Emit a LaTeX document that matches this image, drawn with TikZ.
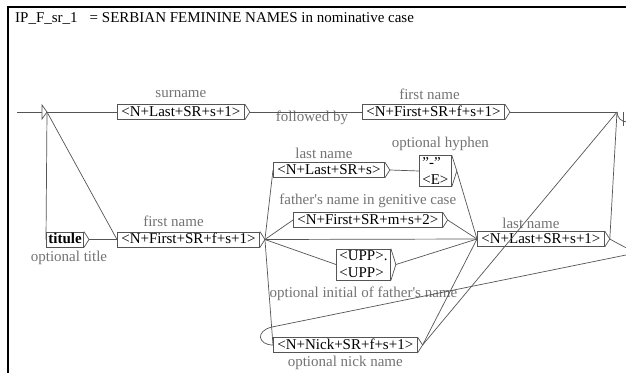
\documentclass[tikz,border=0pt]{standalone}
\usepackage{fontspec}
\setmainfont{Liberation Serif}
\usepackage{tikz}
\usetikzlibrary{calc,positioning}
\definecolor{linegray}{RGB}{85,85,85}
\definecolor{labelgray}{RGB}{115,115,115}
\newcommand{\unifont}{\fontsize{15}{17}\selectfont}
\tikzstyle{edge}=[draw=linegray,line width=0.7pt]
\tikzstyle{unibox} =
  [rectangle, draw=linegray, line width=0.7pt, anchor=west, font=\unifont,
   inner xsep=4pt, inner ysep=0pt, minimum height=15pt, text height=10.5pt, text depth=2pt]
\tikzstyle{twobox} =
  [rectangle, draw=linegray, line width=0.7pt, anchor=west, font=\unifont,
   align=left, inner xsep=3pt, inner ysep=2pt]
\tikzstyle{comment}=[text=labelgray, font=\unifont, inner sep=0pt]
% output triangle on the right side of a box
\newcommand{\boxout}[1]{\draw[edge] (#1.north east) -- ([xshift=5pt]#1.east) coordinate (#1-o) -- (#1.south east);}

\begin{document}
\begin{tikzpicture}[x=1pt,y=-1pt]
  \useasboundingbox (0,0) rectangle (626,372);
  \clip (0,0) rectangle (626,372);
  \fill[white] (0,0) rectangle (626,372);
  \draw[line width=1.6pt] (8,380) -- (8,7) -- (640,7);
  \node [anchor=base west, font=\unifont, inner sep=0pt] (title) at (15,23)
    {IP\_F\_sr\_1\hspace{12pt}= SERBIAN FEMININE NAMES in nominative case};

  % initial and final states
  \coordinate (start) at (17,112);
  \coordinate (init) at (47,112);
  \draw[edge] (start) -- (42,112);
  \draw[edge] (42,105) -- (init) -- (42,119) -- cycle;
  \coordinate (final) at (617,112);
  \draw[edge] (final) arc (180:0:10);
  \draw[edge] (623,112) -- (623,126);

  % boxes
  \node [unibox] (surname) at (117,112) {<N+Last+SR+s+1>};
  \node [unibox] (firstT) at (362,112) {<N+First+SR+f+s+1>};
  \node [unibox, font=\unifont\bfseries, inner xsep=2pt] (titule) at (46,239.5) {titule};
  \node [unibox] (firstB) at (117,239.5) {<N+First+SR+f+s+1>};
  \node [unibox] (lastM) at (273,170) {<N+Last+SR+s>};
  \node [twobox] (hyphen) at (419,171) {\symbol{34}-\symbol{34}\\<E>};
  \node [unibox] (fatherG) at (293,220) {<N+First+SR+m+s+2>};
  \node [twobox] (UPP) at (336,264.5) {<UPP>.\\<UPP>};
  \node [unibox] (lastR) at (477,239) {<N+Last+SR+s+1>};
  \node [unibox] (nick) at (273,345) {<N+Nick+SR+f+s+1>};
  \foreach \b in {surname,firstT,titule,firstB,lastM,hyphen,fatherG,UPP,lastR,nick}
    {\boxout{\b}}

  % comments
  \node [comment, above of=surname, node distance=18pt] (c1) {surname};
  \node [comment, above of=firstT, node distance=18pt, xshift=-4pt] (c2) {first name};
  \node [comment] (c3) at (312,118) {followed by};
  \node [comment, below of=titule, node distance=18pt, xshift=4pt] (c4) {optional title};
  \node [comment, above of=firstB, node distance=18pt, xshift=-15pt] (c5) {first name};
  \node [comment, above of=lastM, node distance=17pt, xshift=-5pt] (c6) {last name};
  \node [comment, above=4pt of hyphen, xshift=5pt] (c7) {optional hyphen};
  \node [comment, above of=fatherG, node distance=19pt] (c8) {father\textquotesingle s name in genitive case};
  \node [comment, below=6pt of UPP] (c9) {optional initial of father\textquotesingle s name};
  \node [comment, above of=lastR, node distance=16pt, xshift=-10pt] (c10) {last name};
  \node [comment, below of=nick, node distance=18pt] (c11) {optional nick name};

  % connections
  \draw[edge] (init) -- (surname.west);
  \draw[edge] (init) -- (titule.west);
  \draw[edge] (init) -- (firstB.west);
  \draw[edge] (surname-o) -- (firstT.west);
  \draw[edge] (firstT-o) -- (final);
  \draw[edge] (titule-o) -- (firstB.west);
  \foreach \t in {lastM,fatherG,lastR,UPP,nick}
    \draw[edge] (firstB-o) -- (\t.west);
  \draw[edge] (lastM-o) -- (hyphen.west);
  \foreach \s in {hyphen,fatherG,UPP,nick}
    \draw[edge] (\s-o) -- (lastR.west);
  \draw[edge] (nick-o) -- (final);
  \draw[edge] (lastR-o) -- (final);
  \draw[edge] (lastR-o) .. controls (650,262) and (650,252) .. (626,255)
    -- (272,327) .. controls (255,331) and (258,345) .. (nick.west);
\end{tikzpicture}
\end{document}
